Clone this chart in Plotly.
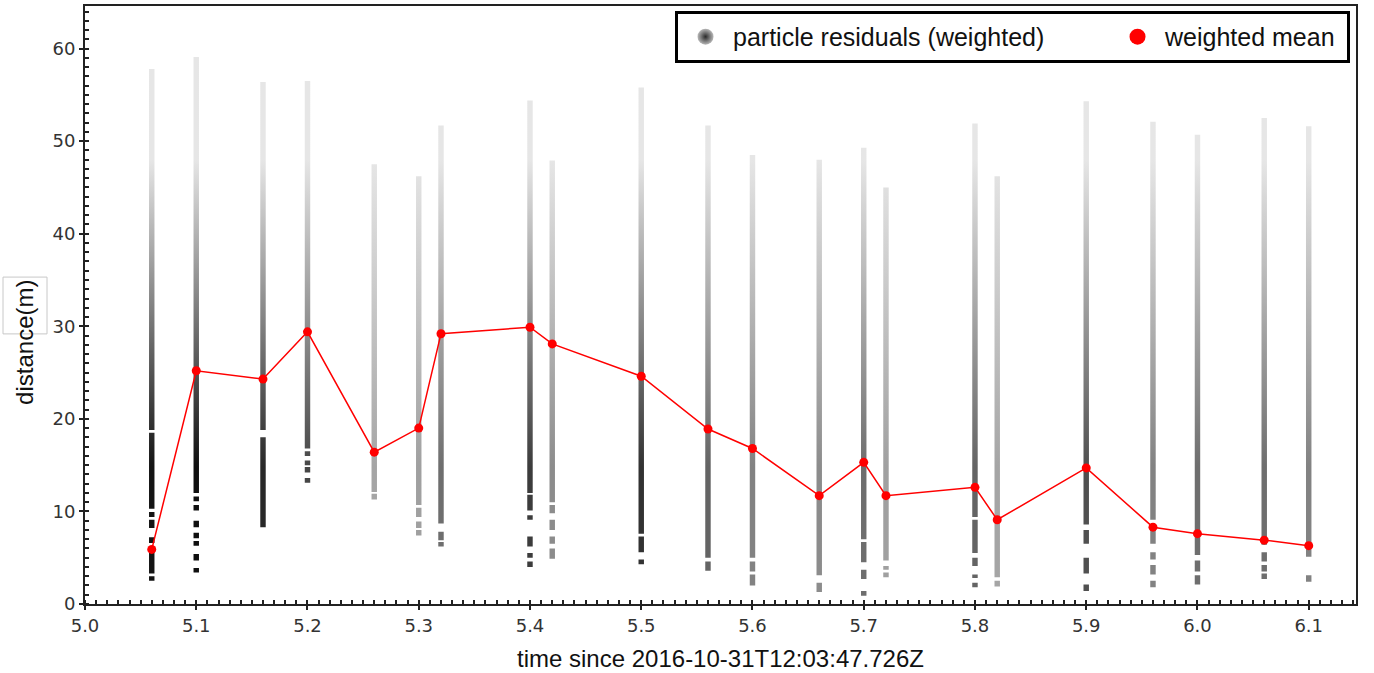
import plotly.graph_objects as go

# ---------------- data ----------------
times = [5.06, 5.10, 5.16, 5.20, 5.26, 5.30, 5.32, 5.40, 5.42, 5.50, 5.56,
         5.60, 5.66, 5.70, 5.72, 5.80, 5.82, 5.90, 5.96, 6.00, 6.06, 6.10]

weighted_mean = [5.9, 25.2, 24.3, 29.4, 16.4, 19.0, 29.2, 29.9, 28.1, 24.6, 18.9,
                 16.8, 11.7, 15.3, 11.7, 12.6, 9.1, 14.7, 8.3, 7.6, 6.9, 6.3]

# particle residual bands per time step: (low, high) distance intervals
particle_bands = [
    [(18.8, 57.8), (10.3, 18.5), (9.4, 9.95), (8.2, 9.1), (6.6, 7.2), (3.3, 6.2), (2.5, 3.0)],
    [(12.0, 59.1), (11.1, 11.6), (10.1, 10.7), (8.3, 9.0), (7.1, 7.7), (6.3, 6.8), (4.7, 5.4), (3.4, 3.9)],
    [(18.8, 56.4), (8.3, 18.0)],
    [(16.8, 56.5), (16.0, 16.5), (15.0, 15.5), (14.2, 14.8), (13.1, 13.6)],
    [(12.1, 47.5), (11.3, 11.9)],
    [(10.7, 46.2), (9.4, 10.4), (8.2, 8.9), (7.4, 8.0)],
    [(8.7, 51.7), (6.9, 7.8), (6.2, 6.7)],
    [(12.0, 54.4), (10.1, 11.8), (9.1, 9.6), (6.2, 7.3), (5.0, 5.5), (4.0, 4.6)],
    [(11.0, 47.9), (9.8, 10.7), (8.0, 9.1), (6.5, 7.3), (4.9, 6.0)],
    [(7.6, 55.8), (5.6, 7.3), (4.3, 4.8)],
    [(5.0, 51.7), (3.6, 4.6)],
    [(5.0, 48.5), (3.5, 4.6), (2.0, 3.2)],
    [(3.1, 48.0), (1.3, 2.3)],
    [(7.0, 49.3), (4.5, 6.7), (2.7, 3.7), (0.9, 1.4)],
    [(4.7, 45.0), (3.7, 4.1), (2.9, 3.4)],
    [(9.4, 51.9), (5.5, 9.1), (4.1, 5.0), (2.8, 3.2), (1.8, 2.3)],
    [(2.9, 46.2), (1.9, 2.5)],
    [(8.6, 54.3), (6.5, 8.0), (3.3, 5.0), (1.4, 2.1)],
    [(9.1, 52.1), (6.5, 8.5), (4.8, 5.6), (3.2, 4.2), (1.8, 2.5)],
    [(8.0, 50.7), (5.3, 7.4), (3.5, 4.7), (2.1, 3.1)],
    [(6.4, 52.5), (4.6, 5.6), (3.5, 4.2), (2.7, 3.3)],
    [(5.1, 51.6), (2.4, 3.1)],
]

# darkest grey level (0-255) of each column's high-weight particles
column_shade = [20, 15, 40, 70, 165, 160, 110, 60, 140, 50, 100,
                130, 140, 110, 160, 100, 165, 80, 130, 110, 110, 130]

x_ticks = [5.0, 5.1, 5.2, 5.3, 5.4, 5.5, 5.6, 5.7, 5.8, 5.9, 6.0, 6.1]
y_ticks = [0, 10, 20, 30, 40, 50, 60]

# ---------------- styling ----------------
HALF_W = 0.00245          # half width of a particle column (x units)
LIGHT = "rgb(230,230,230)"
FONT_TXT = "Liberation Sans, Arial, sans-serif"
FONT_TICK = "DejaVu Sans, sans-serif"

fig = go.Figure()

for t, bands, shade in zip(times, particle_bands, column_shade):
    xs, ys = [], []
    for lo, hi in bands:
        xs += [t - HALF_W, t + HALF_W, t + HALF_W, t - HALF_W, t - HALF_W, None]
        ys += [lo, lo, hi, hi, lo, None]
    base = f"rgb({shade},{shade},{shade})"
    fig.add_trace(go.Scatter(
        x=xs, y=ys, mode="lines", fill="toself",
        line=dict(width=0, color="rgba(0,0,0,0)"),
        fillgradient=dict(type="vertical", start=0, stop=60,
                          colorscale=[[0, base], [0.25, base], [0.8, LIGHT], [1, LIGHT]]),
        hoverinfo="skip", showlegend=False,
    ))

# legend-only entry for the particles
fig.add_trace(go.Scatter(
    x=[None], y=[None], mode="markers", name="particle residuals (weighted)",
    marker=dict(size=16, color="#b8b8b8", gradient=dict(type="radial", color="#2a2a2a")),
    legendwidth=372,
))

# weighted mean line
fig.add_trace(go.Scatter(
    x=times, y=weighted_mean, mode="lines+markers", showlegend=False,
    line=dict(color="#ff0000", width=1.5),
    marker=dict(color="#ff0000", size=9),
))
fig.add_trace(go.Scatter(
    x=[None], y=[None], mode="markers", name="weighted mean",
    marker=dict(size=16, color="#ff0000"),
    legendwidth=177,
))

axis_common = dict(
    showline=True, linecolor="#222", linewidth=2, mirror=True,
    showgrid=False, zeroline=False,
    ticks="outside", ticklen=4, tickwidth=2, tickcolor="#222",
    tickfont=dict(family=FONT_TICK, size=18, color="#333"),
)

fig.update_xaxes(
    **axis_common,
    range=[5.0, 6.1425], tickvals=x_ticks, tickformat=".1f",
    minor=dict(ticks="inside", ticklen=4, tickwidth=1.5, tickcolor="#222", dtick=0.01, tick0=5.0),
    title=dict(text="time since 2016-10-31T12:03:47.726Z",
               font=dict(family=FONT_TXT, size=24, color="#111"), standoff=16),
)
fig.update_yaxes(
    **axis_common,
    range=[0, 64.6], tickvals=y_ticks,
    minor=dict(ticks="inside", ticklen=4, tickwidth=1.5, tickcolor="#222", dtick=1, tick0=0),
)

# y-axis title (placed as in the reference, slightly below the plot centre)
fig.add_annotation(text="distance(m)", textangle=-90, showarrow=False,
                   xref="paper", yref="paper", x=(25 - 85) / 1271, y=(604 - 341) / 600,
                   xanchor="center", yanchor="middle",
                   font=dict(family=FONT_TXT, size=24, color="#111"))

# faint frame around the y title, as in the reference
fig.add_shape(type="rect", xref="paper", yref="paper",
              x0=(3 - 85) / 1271, x1=(47 - 85) / 1271,
              y0=(604 - 333) / 600, y1=(604 - 276) / 600,
              line=dict(color="#c8c8c8", width=1))

fig.update_layout(
    width=1374, height=673,
    margin=dict(l=85, r=18, t=4, b=69),
    paper_bgcolor="white", plot_bgcolor="white",
    legend=dict(
        orientation="h", x=0.9953, xanchor="right", y=0.9917, yanchor="top",
        bordercolor="#000", borderwidth=3, bgcolor="white", itemwidth=45,
        font=dict(family=FONT_TXT, size=25, color="#111"),
    ),
)

fig.write_html("out.html")
